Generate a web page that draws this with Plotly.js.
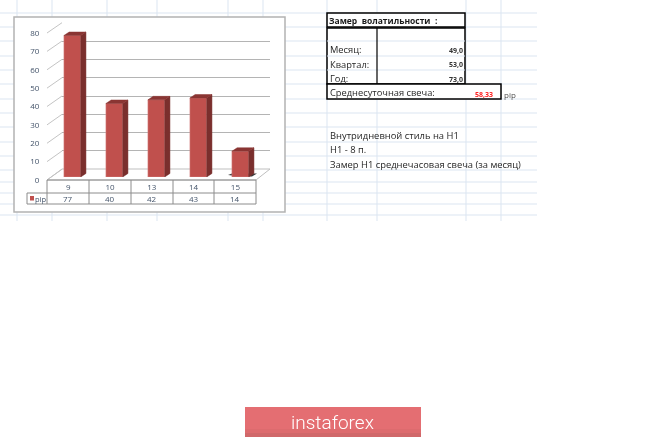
<!DOCTYPE html>
<html><head><meta charset="utf-8">
<script src="https://cdn.plot.ly/plotly-3.0.1.min.js"></script>
<style>html,body{margin:0;padding:0;background:#fff;overflow:hidden}#c{width:665px;height:438px;filter:blur(0.35px)}</style>
</head><body><div id="c"></div>
<script>
const categories = ['9','10','13','14','15'];
const pipValues = [77,40,42,43,14];
const yTicks = [0,10,20,30,40,50,60,70,80];
const seriesName = 'pip';
const statLabels = ['Месяц:','Квартал:','Год:'];
const statValues = ['49,0','53,0','73,0'];
const W=665,H=438;
const px=x=>x/W, py=y=>1-y/H;
const idx=categories.map((_,i)=>i);
const barHalf=0.2, depthX=0.125, depthY=1.9;
const GRID='#dbe5f1', TXT='#44546a', DARK='#262626';
const FONT='"Open Sans", "DejaVu Sans", sans-serif';

const shapes=[], annotations=[];
function line(x0,y0,x1,y1,color,width,layer){shapes.push({type:'line',xref:'paper',yref:'paper',x0:px(x0),y0:py(y0),x1:px(x1),y1:py(y1),line:{color,width},layer:layer||'below'});}
function rect(x0,y0,x1,y1,fill,lc,lw,layer){shapes.push({type:'rect',xref:'paper',yref:'paper',x0:px(x0),y0:py(y0),x1:px(x1),y1:py(y1),fillcolor:fill,line:{color:lc||'rgba(0,0,0,0)',width:lw||0},layer:layer||'below'});}
function path(pts,fill,lc,lw){shapes.push({type:'path',xref:'paper',yref:'paper',path:'M'+pts.map(p=>px(p[0])+','+py(p[1])).join('L')+'Z',fillcolor:fill,line:{color:lc||'rgba(0,0,0,0)',width:lw||0},layer:'below'});}
function text(x,y,t,size,color,anchor,bold,family,weight){annotations.push({xref:'paper',yref:'paper',x:px(x),y:py(y),text:bold?'<b>'+t+'</b>':t,showarrow:false,xanchor:anchor||'left',yanchor:'middle',font:{size,color:color||DARK,family:family||FONT,weight:weight||'normal'},borderpad:0,borderwidth:0});}

// spreadsheet grid
[13,27,41,56,70,84,99,113,127,142,156,170,182,193,204,215].forEach(y=>line(0,y,537,y,GRID,1));
[17,52,107,157,228,263,327,377,466,501].forEach(x=>line(x,0,x,221,GRID,1));
// chart frame
rect(14,17,285,212,'#ffffff','#b3b3b3',1.5);
// floor and left wall
path([[47,180],[62,169],[270,169],[256,180]],'#ffffff','#bfbfbf',1);
yTicks.forEach(t=>{const f=180-t*1.8375,b=169.3-t*1.8325;line(47,f,62,b,'#c4c4c4',1);});
// data table under chart
const cols=[47,89,131,173,214,256];
cols.forEach(x=>line(x,180,x,204,'#8c8c8c',1));
line(47,180,256,180,'#8c8c8c',1);
line(27,193,256,193,'#8c8c8c',1);
line(27,204,256,204,'#8c8c8c',1);
line(27,193,27,204,'#8c8c8c',1);
rect(30,196,34,200.5,'#c0504d');
text(35,198.5,seriesName,7.5,TXT);
pipValues.forEach((v,i)=>text((cols[i]+cols[i+1])/2,198,String(v),8,TXT,'center'));
// floor shadow near last bar
path([[228,175],[232,173.5],[257,173.5],[252,176.5],[240,176.5]],'#3a3a3a');

// right-hand sheet table
rect(327,13,465,27,'#ffffff','#000',1.5);
rect(327,28,465,84,'#ffffff','#000',1.5);
line(327,41,465,41,GRID,1);line(327,56,465,56,GRID,1);line(327,70,465,70,GRID,1);
line(377,28,377,84,'#000',1.2);
rect(327,84,501,99,'#ffffff','#000',1.5);
text(329,21,'Замер  волатильности  :',8.5,'#1a1a1a','left',true);
statLabels.forEach((s,i)=>text(330,50+i*14,s,9.3,DARK));
statValues.forEach((s,i)=>text(463,50.5+i*14.3,s,7,'#333333','right',true));
text(330,93,'Среднесуточная свеча:',9.3,DARK);
text(493,94,'58,33',7,'#ff2020','right',true);
text(504,94,'pip',8,'#505050');
text(330,135.5,'Внутридневной стиль на H1',9.4,DARK);
text(330,149.5,'H1 - 8 п.',9.4,DARK);
text(330,164,'Замер H1 среднечасовая свеча (за месяц)',9.4,DARK);

// logo
rect(245,407,421,437,'#e46e72');
rect(245,429,421,433,'#dd6b6e');
rect(245,433,421,437,'#d0686a');
text(332.5,422,'instaforex',19,'#ffffff','center',false,'Roboto, sans-serif',300);

const sideX=[],sideY=[],topX=[],topY=[];
pipValues.forEach((v,i)=>{
  const r=i+barHalf,l=i-barHalf;
  sideX.push(r,r+depthX,r+depthX,r,r,null);
  sideY.push(0,depthY,v+depthY,v,0,null);
  topX.push(l,l+depthX,r+depthX,r,l,null);
  topY.push(v,v+depthY,v+depthY,v,v,null);
});
const traces=[
 {type:'scatter',x:idx,y:pipValues,xaxis:'x',yaxis:'y',mode:'none',hoverinfo:'skip',showlegend:false},
 {type:'scatter',x:idx,y:pipValues,xaxis:'x2',yaxis:'y2',mode:'none',hoverinfo:'skip',showlegend:false},
 {type:'scatter',x:sideX,y:sideY,xaxis:'x3',yaxis:'y3',mode:'lines',fill:'toself',fillcolor:'#7a2f2d',line:{color:'#7a2f2d',width:0.5},cliponaxis:false,hoverinfo:'skip',showlegend:false},
 {type:'scatter',x:topX,y:topY,xaxis:'x3',yaxis:'y3',mode:'lines',fill:'toself',fillcolor:'#8a3533',line:{color:'#8a3533',width:0.5},cliponaxis:false,hoverinfo:'skip',showlegend:false},
 {type:'bar',name:seriesName,x:idx,y:pipValues,width:barHalf*2,xaxis:'x3',yaxis:'y3',marker:{color:'#c0504d',line:{color:'#d98c8a',width:0.5}},cliponaxis:false,showlegend:false}
];
const base={showgrid:false,zeroline:false,showline:false,ticks:'',fixedrange:true};
const layout={
 width:W,height:H,margin:{l:0,r:0,t:0,b:0},paper_bgcolor:'#fff',plot_bgcolor:'rgba(0,0,0,0)',showlegend:false,
 shapes,annotations,
 xaxis:{...base,domain:[px(62),px(270)],range:[-0.5,4.5],showticklabels:false,anchor:'y'},
 yaxis:{...base,domain:[py(169.3),py(22.7)],range:[0,80],tickvals:yTicks,showgrid:true,gridcolor:'#b4b4b4',gridwidth:1,showticklabels:false,anchor:'x'},
 xaxis2:{...base,domain:[px(47.3),px(256.3)],range:[-0.5,4.5],tickvals:idx,ticktext:categories,tickfont:{size:8,color:TXT,family:FONT},ticklen:0,anchor:'y2',ticklabelstandoff:1},
 yaxis2:{...base,domain:[py(180),py(33)],range:[0,80],tickvals:yTicks,ticktext:yTicks.map(String),tickfont:{size:8,color:TXT,family:FONT},anchor:'x2',ticklabelstandoff:7},
 xaxis3:{...base,domain:[px(51.3),px(261.3)],range:[-0.5,4.5],showticklabels:false,anchor:'y3'},
 yaxis3:{...base,domain:[py(177),py(30)],range:[0,80],showticklabels:false,anchor:'x3'}
};
Plotly.newPlot('c',traces,layout,{displayModeBar:false,staticPlot:true});
</script></body></html>
